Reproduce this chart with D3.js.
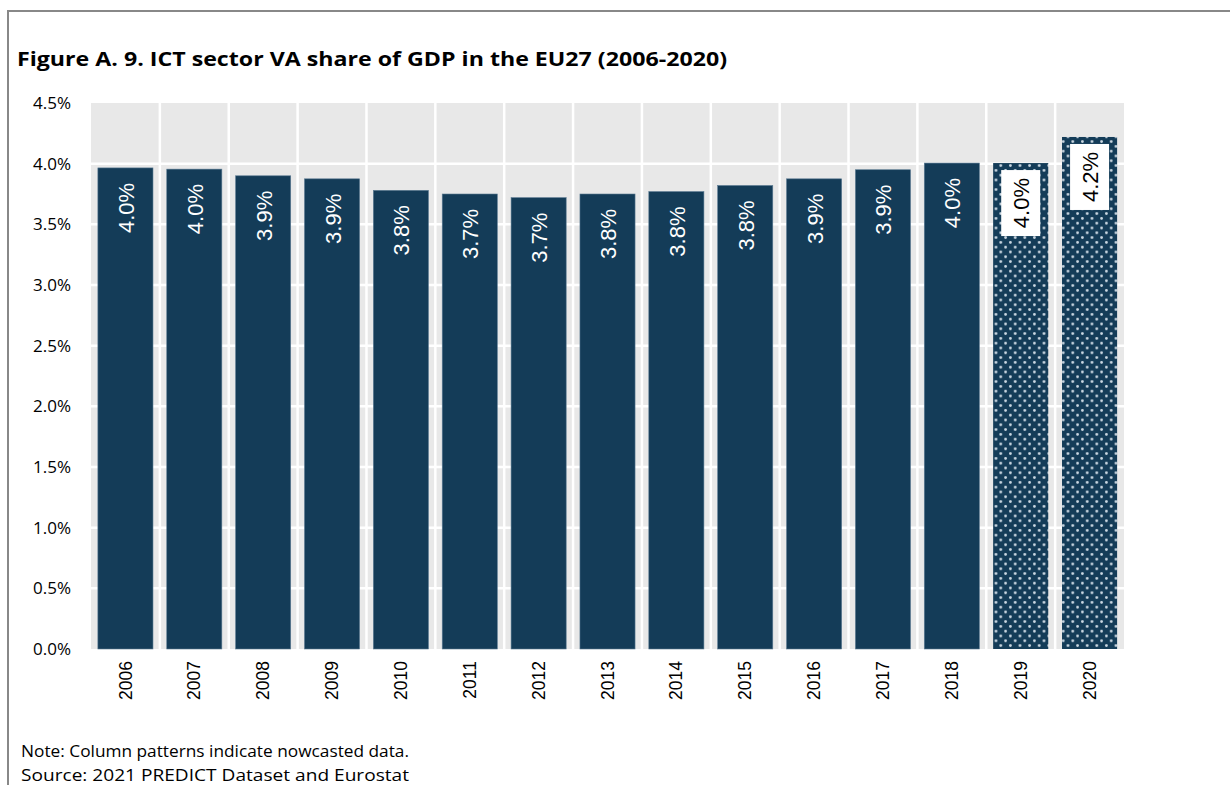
<!DOCTYPE html>
<html><head><meta charset="utf-8">
<script src="https://cdn.jsdelivr.net/npm/d3@7"></script>
<style>body{margin:0;background:#fff}svg{display:block}</style>
</head><body>
<script>
const years = ["2006","2007","2008","2009","2010","2011","2012","2013","2014","2015","2016","2017","2018","2019","2020"];
const values = [3.965,3.955,3.90,3.875,3.78,3.75,3.72,3.75,3.77,3.82,3.875,3.95,4.005,4.005,4.22];
const labels = ["4.0%","4.0%","3.9%","3.9%","3.8%","3.7%","3.7%","3.8%","3.8%","3.8%","3.9%","3.9%","4.0%","4.0%","4.2%"];
const nowcast = [false,false,false,false,false,false,false,false,false,false,false,false,false,true,true];
const yTicks = [0,0.5,1,1.5,2,2.5,3,3.5,4,4.5];

const W=1230,H=785;
const svg=d3.select("body").append("svg").attr("width",W).attr("height",H);
const font="'Open Sans', sans-serif";
const arial="'Liberation Sans', Arial, sans-serif";
const navy="#143c58";

const defs=svg.append("defs");
const pat=defs.append("pattern").attr("id","dots").attr("patternUnits","userSpaceOnUse")
  .attr("width",9.6).attr("height",9.6);
pat.append("rect").attr("width",9.6).attr("height",9.6).attr("fill",navy);
[[2.4,2.4],[7.2,7.2]].forEach(([cx,cy])=>pat.append("circle").attr("cx",cx).attr("cy",cy).attr("r",1.4).attr("fill","#cfdbe5"));

// frame
svg.append("rect").attr("x",8).attr("y",11).attr("width",1240).attr("height",800)
  .attr("fill","none").attr("stroke","#888").attr("stroke-width",2);

svg.append("text").attr("x",17).attr("y",66).attr("font-family",font).attr("font-weight",700)
  .attr("font-size",20).attr("fill","#000").attr("textLength",710).attr("lengthAdjust","spacingAndGlyphs")
  .text("Figure A. 9. ICT sector VA share of GDP in the EU27 (2006-2020)");

const x=d3.scaleBand().domain(years).range([91,1124]).paddingInner(0.2).paddingOuter(0.1);
const y=d3.scaleLinear().domain([0,4.5]).range([649,103]);

const g=svg.append("g");
g.append("rect").attr("x",91).attr("y",y(4.5)).attr("width",1124-91).attr("height",y(0)-y(4.5)).attr("fill","#e8e8e8");
g.selectAll("line.h").data(yTicks.slice(1,-1)).join("line").attr("class","h")
  .attr("x1",91).attr("x2",1124).attr("y1",d=>y(d)).attr("y2",d=>y(d)).attr("stroke","#fff").attr("stroke-width",2.5);
g.selectAll("line.v").data(years.slice(1)).join("line").attr("class","v")
  .attr("x1",d=>x(d)-x.step()*x.paddingInner()/2).attr("x2",d=>x(d)-x.step()*x.paddingInner()/2)
  .attr("y1",y(4.5)).attr("y2",y(0)).attr("stroke","#fff").attr("stroke-width",2.5);

g.selectAll("rect.bar").data(years).join("rect").attr("class","bar")
  .attr("x",d=>x(d)).attr("width",x.bandwidth())
  .attr("y",(d,i)=>y(values[i])).attr("height",(d,i)=>y(0)-y(values[i]))
  .attr("fill",(d,i)=>nowcast[i]?"url(#dots)":navy)
  .attr("stroke",(d,i)=>nowcast[i]?"none":"#5a7a92").attr("stroke-width",0.6);

years.forEach((d,i)=>{
  const cx=x(d)+x.bandwidth()/2, top=y(values[i]);
  if(nowcast[i]){
    g.append("rect").attr("x",cx-19.5).attr("y",top+7).attr("width",39).attr("height",66).attr("fill","#fff");
  }
  g.append("text").attr("transform",`translate(${cx+1},${top+40}) rotate(-90)`)
    .attr("text-anchor","middle").attr("dominant-baseline","central")
    .attr("font-family",arial).attr("font-size",22)
    .attr("fill",nowcast[i]?"#000":"#fff").text(labels[i]);
});

const yAxis=d3.axisLeft(y).tickValues(yTicks).tickFormat(d=>d.toFixed(1)+"%").tickSize(0).tickPadding(0);
const ya=svg.append("g").attr("transform","translate(71,0)").call(yAxis);
ya.select(".domain").remove();
ya.selectAll("text").attr("font-family",font).attr("font-size",17).attr("fill","#000");

const xAxis=d3.axisBottom(x).tickSize(0).tickPadding(0);
const xa=svg.append("g").attr("transform","translate(0,661)").call(xAxis);
xa.select(".domain").remove();
xa.selectAll("text").attr("font-family",arial).attr("font-size",17.5).attr("fill","#000")
  .attr("transform","rotate(-90)").attr("text-anchor","end").attr("dy","0.35em").attr("x",0).attr("y",0);

svg.append("text").attr("x",21).attr("y",757).attr("font-family",font).attr("font-size",17).attr("fill","#000")
  .attr("textLength",388).attr("lengthAdjust","spacingAndGlyphs")
  .text("Note: Column patterns indicate nowcasted data.");
svg.append("text").attr("x",21).attr("y",781).attr("font-family",font).attr("font-size",17).attr("fill","#000")
  .attr("textLength",388).attr("lengthAdjust","spacingAndGlyphs")
  .text("Source: 2021 PREDICT Dataset and Eurostat");
</script>
</body></html>
